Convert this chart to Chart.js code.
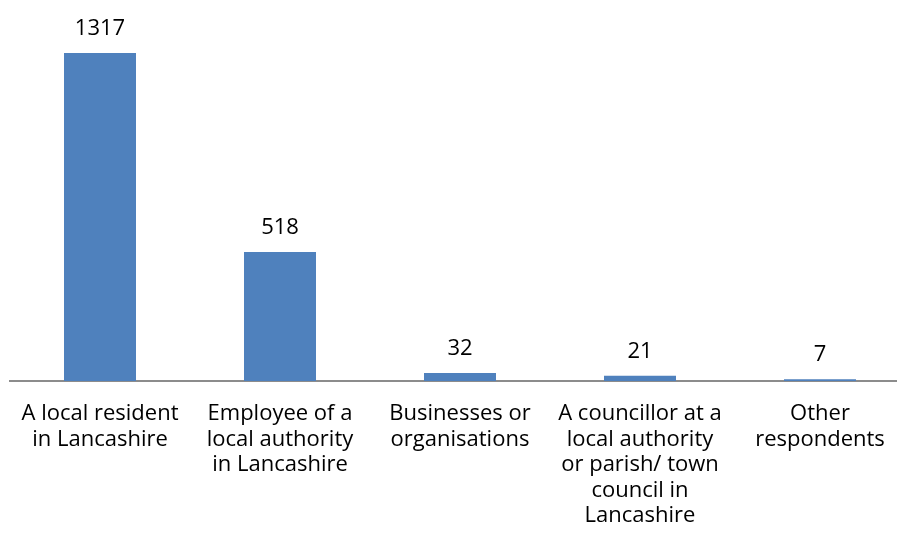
<!DOCTYPE html>
<html>
<head>
<meta charset="utf-8">
<script src="https://cdn.jsdelivr.net/npm/chart.js@4"></script>
<style>
  html, body { margin: 0; padding: 0; background: #fff; overflow: hidden; }
  #wrap { width: 910px; height: 557px; }
</style>
</head>
<body>
<div id="wrap"><canvas id="chart"></canvas></div>
<script>
const categories = [
    ['A local resident', 'in Lancashire'],
    ['Employee of a', 'local authority', 'in Lancashire'],
    ['Businesses or', 'organisations'],
    ['A councillor at a', 'local authority', 'or parish/ town', 'council in', 'Lancashire'],
    ['Other', 'respondents']
];
const respondents = [1317, 518, 32, 21, 7];

const fontFamily = '"Open Sans", sans-serif';

const valueLabels = {
    id: 'valueLabels',
    afterDatasetsDraw(chart) {
        const ctx = chart.ctx;
        const meta = chart.getDatasetMeta(0);
        ctx.save();
        ctx.font = '22px ' + fontFamily;
        ctx.fillStyle = '#000';
        ctx.textAlign = 'center';
        ctx.textBaseline = 'alphabetic';
        meta.data.forEach((bar, i) => {
            ctx.fillText(String(respondents[i]), bar.x, bar.y - 18);
        });
        ctx.restore();
    }
};

new Chart(document.getElementById('chart'), {
    type: 'bar',
    data: {
        labels: categories,
        datasets: [{
            data: respondents,
            backgroundColor: '#4F81BD',
            borderWidth: 0,
            categoryPercentage: 1,
            barPercentage: 0.4
        }]
    },
    options: {
        responsive: true,
        maintainAspectRatio: false,
        animation: false,
        layout: { padding: { left: 10, right: 0, top: 0, bottom: 0 } },
        plugins: {
            legend: { display: false },
            tooltip: { enabled: false }
        },
        scales: {
            x: {
                grid: { display: false, drawTicks: false },
                border: { display: true, color: '#8c8c8c', width: 2 },
                ticks: {
                    color: '#000',
                    font: { family: fontFamily, size: 22, lineHeight: '25.5px' },
                    padding: 20,
                    maxRotation: 0,
                    autoSkip: false
                },
                afterFit(scale) { scale.height = 176; }
            },
            y: {
                display: false,
                min: 0,
                max: 1530
            }
        }
    },
    plugins: [valueLabels]
});
</script>
</body>
</html>
